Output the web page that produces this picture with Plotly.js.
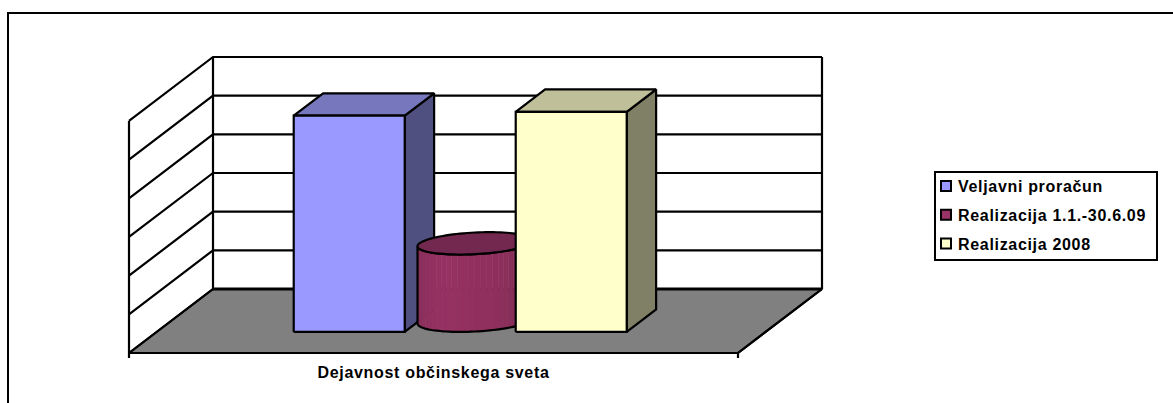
<!DOCTYPE html>
<html><head><meta charset="utf-8">
<script src="https://cdn.plot.ly/plotly-3.0.1.min.js"></script>
<style>html,body{margin:0;padding:0;background:#fff;overflow:hidden}
#chart .legendtext, #chart .xtick text{letter-spacing:.68px}</style>
</head><body><div id="chart" style="width:1173px;height:403px"></div>
<script>
// ---- data ----
const categories = ['Dejavnost občinskega sveta'];
const seriesNames = ['Veljavni proračun', 'Realizacija 1.1.-30.6.09', 'Realizacija 2008'];
const veljavniProracun = [5.59];
const realizacija09 = [2.0];
const realizacija2008 = [5.69];
const gridValues = [0, 1, 2, 3, 4, 5, 6];

// ---- styles ----
const frontColors = ['#9999FF', '#993366', '#FFFFCC'];
const topColors = ['#7777BD', '#732850', '#BFBF99'];
const sideColors = ['#4F4F80', '#732850', '#808066'];
const cylinderStops = [[0x8A,0x2F,0x5C],[0x96,0x32,0x63],[0x8C,0x2F,0x5C],[0x6E,0x28,0x4C]];
const LW = 2.2;

// ---- projection: u along the category axis, v the value, d the depth ----
const PX_U = 609, PX_V = 38.67, PX_LEFT = 129, PX_RIGHT = 823, PX_TOP = 57, PX_BOTTOM = 353, PAD = 10;
const DEPTH_U = 84 / PX_U, DEPTH_V = 64 / PX_V;
const BAR_START = 137 / PX_U, BAR_W = 111 / PX_U, D0 = 0.33, D1 = 0.68, TICK = 5 / PX_V;
const P = (u, v, d) => [u + d * DEPTH_U, v + d * DEPTH_V];
const traces = [];
function poly(pts, fill, lw, closed) {
  const c = closed === false ? pts : pts.concat([pts[0]]);
  traces.push({x: c.map(p => p[0]), y: c.map(p => p[1]), type: 'scatter', mode: lw ? 'lines' : 'none',
    fill: fill ? 'toself' : 'none', fillcolor: fill || undefined,
    line: {color: '#000', width: lw || 0, simplify: false}, hoverinfo: 'skip', showlegend: false, cliponaxis: false});
}
// walls and floor
poly([P(0,0,1), P(1,0,1), P(1,0,0), P(0,0,0)], '#808080', LW);
gridValues.forEach(g => { poly([P(0,g,0), P(0,g,1), P(1,g,1)], null, LW, false); });
poly([P(0,-TICK,0), P(0,6,0)], null, LW, false);
poly([P(0,0,1), P(0,6,1)], null, LW, false);
poly([P(1,0,1), P(1,6,1)], null, LW, false);
poly([P(0,0,1), P(1,0,1)], null, 3.2, false);
poly([P(1,-TICK,0), P(1,0,0), P(1,0,1)], null, LW, false);

function box(i, val) {
  const u0 = BAR_START + i * BAR_W, u1 = u0 + BAR_W;
  poly([P(u1,0,D0), P(u1,0,D1), P(u1,val,D1), P(u1,val,D0)], sideColors[i], LW);
  poly([P(u0,val,D0), P(u1,val,D0), P(u1,val,D1), P(u0,val,D1)], topColors[i], LW);
  poly([P(u0,0,D0), P(u1,0,D0), P(u1,val,D0), P(u0,val,D0)], frontColors[i], LW);
}
function shade(f) {
  const s = f * (cylinderStops.length - 1), k = Math.min(Math.floor(s), cylinderStops.length - 2), r = s - k;
  return 'rgb(' + cylinderStops[k].map((c, j) => Math.round(c + (cylinderStops[k+1][j] - c) * r)).join(',') + ')';
}
function cylinder(i, val) {
  const uc = BAR_START + (i + 0.5) * BAR_W, dc = (D0 + D1) / 2, ru = BAR_W / 2, rd = (D1 - D0) / 2;
  const pt = (t, v) => P(uc + ru * Math.cos(t), v, dc + rd * Math.sin(t));
  const du = rd * DEPTH_U;
  const t0 = Math.atan2(-du, -ru);       // left silhouette point
  const t1 = Math.atan2(du, ru);         // right silhouette point
  const a0 = t0, a1 = t1 < t0 ? t1 + 2 * Math.PI : t1;
  const STRIPS = 30, N = 48;
  for (let k = 0; k < STRIPS; k++) {
    const ta = a0 + (a1 - a0) * k / STRIPS, tb = a0 + (a1 - a0) * (k + 1) / STRIPS;
    const col = shade((k + .5) / STRIPS);
    poly([pt(ta,val), pt(tb,val), pt(tb,0), pt(ta,0)], col, 0);
    traces[traces.length-1].mode = 'lines';
    traces[traces.length-1].line = {color: col, width: 0.6};
  }
  const front = [];
  for (let k = 0; k <= N; k++) front.push(pt(a0 + (a1 - a0) * k / N, 0));
  for (let k = N; k >= 0; k--) front.push(pt(a0 + (a1 - a0) * k / N, val));
  poly(front, null, LW);
  const ring = [];
  for (let k = 0; k < 96; k++) ring.push(pt(2 * Math.PI * k / 96, val));
  poly(ring, topColors[i], LW);
}
box(0, veljavniProracun[0]);
cylinder(1, realizacija09[0]);
box(2, realizacija2008[0]);

// legend entries
seriesNames.forEach((n, i) => traces.push({x: [null], y: [null], type: 'scatter', mode: 'markers', name: n,
  legendgroup: 'g' + i, marker: {symbol: 'square', size: 10, color: frontColors[i], line: {color: '#000', width: 2}}}));

const W = 1173, H = 403;
const aL = PX_LEFT - PAD, aR = PX_RIGHT + PAD, aT = PX_TOP - PAD, aB = PX_BOTTOM + PAD;
const px = x => (x - aL) / (aR - aL), py = y => (aB - y) / (aB - aT);
const FONT = {size: 16, weight: 'bold', family: '"Liberation Sans", Arial, sans-serif', color: '#000'};
const layout = {
  width: W, height: H, paper_bgcolor: '#fff', plot_bgcolor: 'rgba(0,0,0,0)', showlegend: true,
  margin: {l: aL, r: W - aR, t: aT, b: H - aB, pad: 0},
  font: FONT,
  xaxis: {range: [-PAD / PX_U, (PX_RIGHT - PX_LEFT + PAD) / PX_U], tickmode: 'array', tickvals: [0.5], ticktext: categories, ticks: '',
    showgrid: false, zeroline: false, showline: false, tickfont: FONT, ticklabelstandoff: -2},
  yaxis: {range: [-PAD / PX_V, (PX_BOTTOM - PX_TOP + PAD) / PX_V], visible: false, zeroline: false, showgrid: false},
  legend: {x: px(918), y: py(169), xanchor: 'left', yanchor: 'top', bgcolor: 'rgba(0,0,0,0)', borderwidth: 0,
    tracegroupgap: 5, font: FONT, itemclick: false, itemdoubleclick: false},
  shapes: [
    {type: 'rect', xref: 'paper', yref: 'paper', x0: px(8), x1: px(1185), y0: py(13), y1: py(420), line: {color: '#000', width: 2}, fillcolor: 'rgba(0,0,0,0)', layer: 'below'},
    {type: 'rect', xref: 'paper', yref: 'paper', x0: px(935), x1: px(1157), y0: py(172), y1: py(260), line: {color: '#000', width: 2}, fillcolor: 'rgba(0,0,0,0)'}
  ]
};
Plotly.newPlot('chart', traces, layout, {staticPlot: true, displayModeBar: false}).then(() => {
  document.querySelectorAll('#chart .legend .legendsymbols').forEach(s => s.setAttribute('transform', 'translate(8,0)'));
  document.querySelectorAll('#chart .legend .scrollbox').forEach(s => s.removeAttribute('clip-path'));
  document.querySelectorAll('#chart .legend').forEach(s => s.removeAttribute('clip-path'));
});
</script></body></html>
